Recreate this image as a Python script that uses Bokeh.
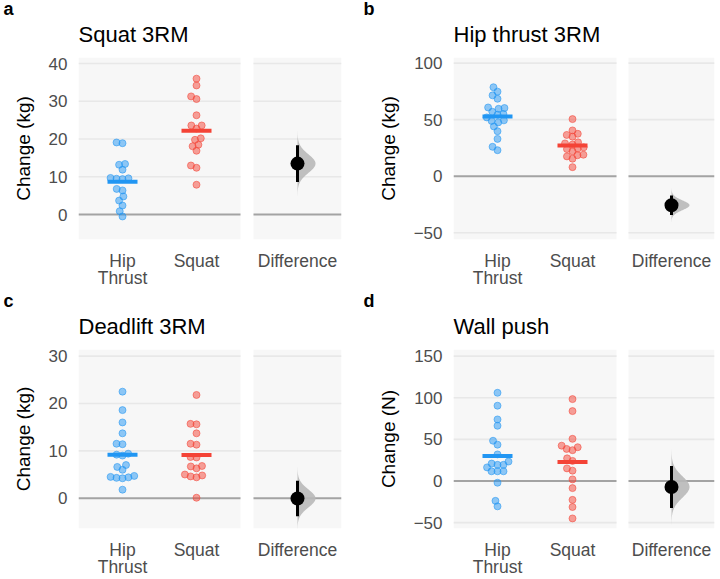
import numpy as np
from bokeh.plotting import figure
from bokeh.layouts import gridplot
from bokeh.models import Range1d, FixedTicker, Title
from bokeh.embed import file_html
from bokeh.resources import INLINE

# ---------------- data ----------------
categories = ["Hip\nThrust", "Squat", "Difference"]

squat_hip = [19.1, 18.9, 13.4, 13.2, 11.9, 9.7, 9.6, 9.5, 9.4, 6.8, 6.4, 4.8, 3.7, 2.4, 0.9, -0.5]
squat_squat = [36.0, 34.2, 31.3, 30.6, 26.3, 23.6, 23.6, 22.8, 20.2, 19.8, 18.5, 18.1, 16.9, 13.0, 12.4, 7.9]

hipthrust_hip = [78.7, 74.8, 71.5, 68.5, 60.8, 60.3, 59.6, 57.0, 55.0, 54.4, 52.0, 49.4, 48.9, 47.6, 44.0, 39.8, 33.0, 26.0, 23.0]
hipthrust_squat = [50.5, 40.5, 37.5, 36.5, 35.0, 30.0, 29.0, 28.0, 25.5, 24.5, 24.0, 22.0, 19.0, 18.5, 17.5, 15.5, 8.0]

deadlift_hip = [22.5, 18.6, 16.0, 13.7, 11.5, 11.4, 9.4, 9.2, 9.0, 7.0, 6.6, 6.0, 4.7, 4.5, 4.4, 4.3, 4.2, 1.8]
deadlift_squat = [21.8, 15.7, 15.6, 13.7, 11.5, 11.3, 8.7, 8.6, 6.8, 6.7, 6.3, 5.0, 4.8, 4.6, 4.4, 0.1]

wallpush_hip = [106.0, 90.5, 74.0, 66.4, 48.4, 43.7, 32.0, 23.4, 21.0, 19.5, 19.5, 16.4, 11.7, 11.7, 11.7, -2.0, -23.8, -30.4]
wallpush_squat = [98.4, 84.0, 50.7, 42.5, 40.6, 38.6, 37.1, 27.3, 24.2, 15.2, 12.5, 2.0, -8.5, -22.6, -31.2, -44.9]

panel_letters = ["a", "b", "c", "d"]
panel_titles = ["Squat 3RM", "Hip thrust 3RM", "Deadlift 3RM", "Wall push"]
y_labels = ["Change (kg)", "Change (kg)", "Change (kg)", "Change (N)"]
y_ticks = [[0, 10, 20, 30, 40], [-50, 0, 50, 100], [0, 10, 20, 30], [-50, 0, 50, 100, 150]]
y_limits = [(-6.6, 41.6), (-56, 105), (-6.4, 31.4), (-57, 158)]

# ---------------- style ----------------
BLUE = "#2196F3"
RED = "#F44336"
BG = "#F7F7F7"
GRID = "#E8E8E8"
ZERO = "#A3A3A3"
FONT = "Liberation Sans"


def swarm(vals, ppu, d):
    ys = np.asarray(vals, dtype=float) * ppu
    order = np.argsort(ys)
    xs = np.zeros(len(ys))
    placed = []
    for i in order:
        y = ys[i]
        cands = [0.0]
        for j in placed:
            dy = abs(ys[j] - y)
            if dy < d:
                dx = np.sqrt(d * d - dy * dy)
                cands += [xs[j] + dx, xs[j] - dx]
        cands.sort(key=lambda c: (abs(c), c))
        for c in cands:
            if all((xs[j] - c) ** 2 + (ys[j] - y) ** 2 >= d * d - 1e-6 for j in placed):
                xs[i] = c
                break
        placed.append(i)
    return xs


def make_panel(k, hip, sq, width, height, bl, br, bt, bb, wmain, gap):
    fw = width - bl - br
    fh = height - bt - bb
    y0, y1 = y_limits[k]
    ppu = fh / (y1 - y0)
    wdiff = fw - wmain - gap
    xh = int(round(wmain * 0.6 / 2.2))
    xs = int(round(wmain * 1.6 / 2.2))
    xd = int(round(wmain + gap + wdiff / 2))

    p = figure(width=width, height=height, x_range=Range1d(0, fw), y_range=Range1d(y0, y1),
               output_backend="svg", toolbar_location=None,
               min_border_left=bl, min_border_right=br, min_border_top=bt, min_border_bottom=bb)
    p.background_fill_color = "white"
    p.border_fill_color = "white"
    p.outline_line_color = None
    p.xgrid.visible = False
    p.ygrid.visible = False

    p.quad(left=[0, wmain + gap], right=[wmain, fw], bottom=[y0, y0], top=[y1, y1],
           fill_color=BG, line_color=None)
    for t in y_ticks[k]:
        col = ZERO if t == 0 else GRID
        lw = 2 if t == 0 else 1.6
        p.segment(x0=[0, wmain + gap], x1=[wmain, fw], y0=[t, t], y1=[t, t], line_color=col, line_width=lw)

    d = 6.0
    for vals, xc, col in ((hip, xh, BLUE), (sq, xs, RED)):
        off = swarm(vals, ppu, d)
        p.scatter(x=xc + off, y=vals, size=7, fill_color=col, fill_alpha=0.5,
                  line_color=col, line_alpha=0.55, line_width=1)
        p.rect(x=[xc], y=[float(np.mean(vals))], width=30, height=4, height_units="screen",
               fill_color=col, line_color=None)

    a = np.asarray(hip, float)
    b = np.asarray(sq, float)
    diff = b.mean() - a.mean()
    se = np.sqrt(a.var(ddof=1) / len(a) + b.var(ddof=1) / len(b))
    yy = np.linspace(diff - 4.2 * se, diff + 4.2 * se, 200)
    dens = np.exp(-0.5 * ((yy - diff) / se) ** 2)
    xx = xd + dens * 18
    p.patch(x=np.concatenate([[xd] * len(yy), xx[::-1]]), y=np.concatenate([yy, yy[::-1]]),
            fill_color="#B8B8B8", fill_alpha=0.9, line_color=None)
    p.segment(x0=[xd], x1=[xd], y0=[diff - 1.96 * se], y1=[diff + 1.96 * se], line_color="black", line_width=3)
    p.scatter(x=[xd], y=[diff], size=14, fill_color="black", line_color=None)

    p.xaxis.ticker = FixedTicker(ticks=[xh, xs, xd])
    p.xaxis.major_label_overrides = {xh: categories[0], xs: categories[1], xd: categories[2]}
    p.yaxis.ticker = FixedTicker(ticks=y_ticks[k])
    for ax in (p.xaxis, p.yaxis):
        ax.axis_line_color = None
        ax.major_tick_line_color = None
        ax.minor_tick_line_color = None
        ax.major_tick_out = 0
        ax.major_tick_in = 0
        ax.major_label_text_font = FONT
        ax.major_label_text_color = "#4D4D4D"
    p.xaxis.major_label_text_font_size = "17.5px"
    p.xaxis.major_label_text_line_height = 0.85
    p.yaxis.major_label_text_font_size = "17px"
    p.xaxis.major_label_standoff = 11
    p.yaxis.major_label_standoff = 11
    p.yaxis.axis_label = y_labels[k]
    p.yaxis.axis_label_text_font = FONT
    p.yaxis.axis_label_text_font_size = "19px"
    p.yaxis.axis_label_text_font_style = "normal"
    p.yaxis.axis_label_text_color = "black"
    p.yaxis.axis_label_standoff = 12

    # panel letter (outermost) via the default title
    p.title.text = panel_letters[k]
    p.title.text_font = FONT
    p.title.text_font_size = "18px"
    p.title.text_font_style = "bold"
    p.title.text_color = "black"
    p.title.align = "left"
    p.title.vertical_align = "bottom"
    p.title.offset = -bl + 3
    p.title.standoff = -12
    # panel title, next to the frame
    p.add_layout(Title(text=panel_titles[k], align="left", text_font=FONT, vertical_align="top",
                       text_font_size="22px", text_font_style="normal", text_color="black",
                       standoff=18), "above")
    return p


pa = make_panel(0, squat_hip, squat_squat, 360, 290, 78, 19, 57, 50, 162, 13)
pb = make_panel(1, hipthrust_hip, hipthrust_squat, 360, 290, 93, 6, 57, 50, 163, 12)
pc = make_panel(2, deadlift_hip, deadlift_squat, 360, 289, 78, 19, 59, 46, 162, 13)
pd = make_panel(3, wallpush_hip, wallpush_squat, 360, 289, 93, 6, 59, 46, 163, 12)

grid = gridplot([[pa, pb], [pc, pd]], toolbar_location=None)
open("out.html", "w").write(file_html(grid, INLINE))
